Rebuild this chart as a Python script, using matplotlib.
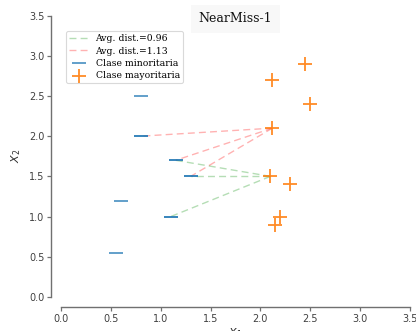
import matplotlib
matplotlib.use("Agg")
import matplotlib.pyplot as plt
import numpy as np

# Data
min_x = [0.8, 0.8, 1.15, 1.3, 1.1, 0.6, 0.55]
min_y = [2.5, 2.0, 1.7, 1.5, 1.0, 1.2, 0.55]
maj_x = [2.1, 2.3, 2.2, 2.15, 2.12, 2.12, 2.45, 2.5]
maj_y = [1.5, 1.4, 1.0, 0.9, 2.1, 2.7, 2.9, 2.4]

# neighbour links: (majority index, minority indices)
green_maj = 0
green_min = [2, 3, 4]
red_maj = 4
red_min = [1, 2, 3]
green_label = "Avg. dist.=0.96"
red_label = "Avg. dist.=1.13"
min_label = "Clase minoritaria"
maj_label = "Clase mayoritaria"
title = "NearMiss-1"
ticks = [0.0, 0.5, 1.0, 1.5, 2.0, 2.5, 3.0, 3.5]

fig = plt.figure(figsize=(4.16, 3.31), dpi=100)
ax = fig.add_axes([0.1466, 0.1027, 0.839, 0.8503])

for k, i in enumerate(green_min):
    ax.plot([maj_x[green_maj], min_x[i]], [maj_y[green_maj], min_y[i]],
            color='#2ca02c', alpha=0.35, lw=1.0, dashes=(5, 3),
            label=green_label if k == 0 else None)
for k, i in enumerate(red_min):
    ax.plot([maj_x[red_maj], min_x[i]], [maj_y[red_maj], min_y[i]],
            color='#ff0000', alpha=0.3, lw=1.0, dashes=(5, 3),
            label=red_label if k == 0 else None)

ax.scatter(min_x, min_y, marker='_', s=115, linewidths=1.4,
           color='#1f77b4', alpha=0.7, label=min_label, zorder=3)
sel = sorted(set(green_min + red_min))
ax.scatter([min_x[i] for i in sel], [min_y[i] for i in sel], marker='_', s=115,
           linewidths=1.4, color='#1f77b4', alpha=0.6, zorder=3)
ax.scatter(maj_x, maj_y, marker='+', s=115, linewidths=1.3,
           color='#ff7f0e', alpha=0.9, label=maj_label, zorder=3)

ax.set_xlim(0, 3.5)
ax.set_ylim(0, 3.5)
ax.set_xticks(ticks)
ax.set_yticks(ticks)
ax.set_xticklabels([f"{t:.1f}" for t in ticks])
ax.set_yticklabels([f"{t:.1f}" for t in ticks])

for s in ['top', 'right']:
    ax.spines[s].set_visible(False)
for s in ['left', 'bottom']:
    ax.spines[s].set_position(('outward', 7))
    ax.spines[s].set_color('#707070')
    ax.spines[s].set_linewidth(1.0)
ax.tick_params(colors='#707070', labelcolor='#404040', labelsize=7,
               length=3, width=0.9, pad=2)

ax.set_xlabel(r'$X_1$', fontsize=8, color='#303030', labelpad=2)
ax.set_ylabel(r'$X_2$', fontsize=8, color='#303030', labelpad=4)

ax.text(0.5, 0.988, title, transform=ax.transAxes, ha='center', va='center',
        fontsize=9, family='DejaVu Serif', color='#111111',
        bbox=dict(boxstyle='square,pad=0.6', facecolor='#f8f8f8', edgecolor='none'))

leg = ax.legend(loc='upper left', bbox_to_anchor=(0.015, 0.945),
                prop={'family': 'DejaVu Serif', 'size': 6.7},
                handlelength=2.0, borderpad=0.35, labelspacing=0.35,
                handletextpad=0.8, borderaxespad=0.0, frameon=True)
leg.get_frame().set_edgecolor('#d0d0d0')
leg.get_frame().set_linewidth(0.8)

fig.savefig('out.png', dpi=100)
